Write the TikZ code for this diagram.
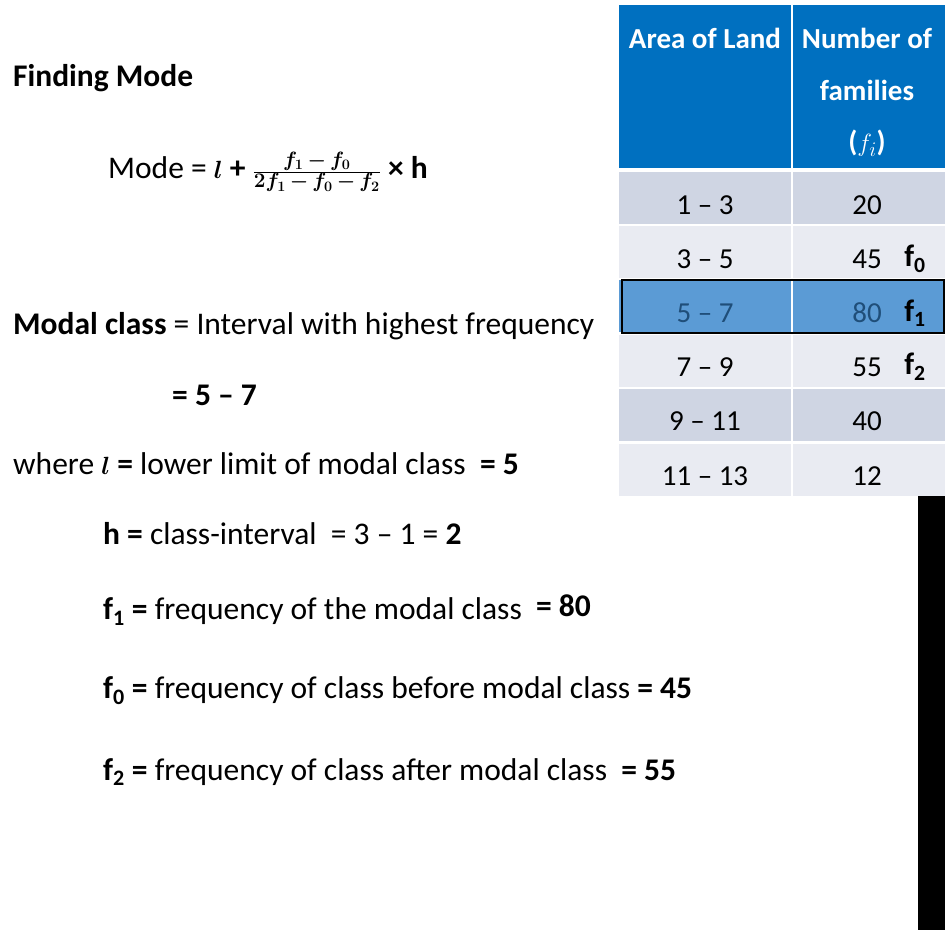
\documentclass[tikz,border=0pt]{standalone}
\usepackage{fontspec}
\setmainfont{Carlito}
\usepackage{amsmath}
\begin{document}
\begin{tikzpicture}[x=1pt,y=-1pt,
  txt/.style={anchor=west,inner sep=0pt,font=\fontsize{31.5}{36}\selectfont},
  cell/.style={inner sep=0pt,font=\fontsize{29}{34}\selectfont},
  hd/.style={inner sep=0pt,font=\fontsize{29}{34}\selectfont\bfseries,text=white}]
\definecolor{hblue}{HTML}{0070C0}
\definecolor{bandA}{HTML}{CFD5E3}
\definecolor{bandB}{HTML}{E9EBF2}
\definecolor{hl}{HTML}{5B9BD5}
\definecolor{hltxt}{HTML}{1F4E79}
\useasboundingbox (0,0) rectangle (945,945);
\fill[white] (0,0) rectangle (945,945);
% table
\fill[hblue] (619,5) rectangle (945,168);
\draw[white,line width=2pt] (792,5) -- (792,168);
\foreach \ya/\yb/\c in {172/224/bandA,226/278/bandB,280/332/hl,335/387/bandB,389/441/bandA,444/496/bandB}{
  \fill[\c] (619,\ya) rectangle (945,\yb);
  \draw[white,line width=2pt] (792,\ya) -- (792,\yb);
}
\draw[black,line width=2.5pt] (622,280) rectangle (944,333);
\fill[black] (918,496) rectangle (945,930);
\node[hd] (h1) at (705,38) {Area of Land};
\node[hd] (h2) at (867,38) {Number of};
\node[hd] (h3) at (867,90) {families};
\node[hd] (h4) at (867,143) {($f_i$)};
\foreach \y/\a/\b/\n in {205/1 – 3/20/r1,259/3 – 5/45/r2,367/7 – 9/55/r4,421/9 – 11/40/r5,476/11 – 13/12/r6}{
  \node[cell] (a\n) at (705,\y) {\a};
  \node[cell] (b\n) at (867,\y) {\b};
}
\node[cell,text=hltxt] (ar3) at (705,313) {5 – 7};
\node[cell,text=hltxt] (br3) at (867,313) {80};
\node[cell,font=\fontsize{31}{36}\selectfont\bfseries] (f0) at (915,259) {f$_{\mathbf 0}$};
\node[cell,font=\fontsize{31}{36}\selectfont\bfseries] (f1) at (915,313) {f$_{\mathbf 1}$};
\node[cell,font=\fontsize{31}{36}\selectfont\bfseries] (f2) at (915,367) {f$_{\mathbf 2}$};
% left text
\node[txt] (t1) at (13,78) {\textbf{Finding Mode}};
\node[txt] (t2) at (108,172) {Mode = $\boldsymbol{l}$ \textbf{+} $\boldsymbol{\frac{f_1\,-\,f_0}{2f_1\,-\,f_0\,-\,f_2}}$ \textbf{× h}};
\node[txt] (t3) at (13,326) {\textbf{Modal class} = Interval with highest frequency};
\node[txt] (t4) at (172,395) {\textbf{= 5 – 7}};
\node[txt] (t5) at (13,464) {where $\boldsymbol{l}$ \textbf{=} lower limit of modal class\ \ \textbf{= 5}};
\node[txt] (t6) at (103,534) {\textbf{h =} class-interval\ \ = 3 – 1 = \textbf{2}};
\node[txt] (t7) at (103,610) {\textbf{f$_{\mathbf 1}$ =} frequency of the modal class\ \ \raisebox{3pt}{\textbf{= 80}}};
\node[txt] (t8) at (103,691) {\textbf{f$_{\mathbf 0}$ =} frequency of class before modal class \textbf{= 45}};
\node[txt] (t9) at (103,772) {\textbf{f$_{\mathbf 2}$ =} frequency of class after modal class\ \ \textbf{= 55}};
\end{tikzpicture}
\end{document}
